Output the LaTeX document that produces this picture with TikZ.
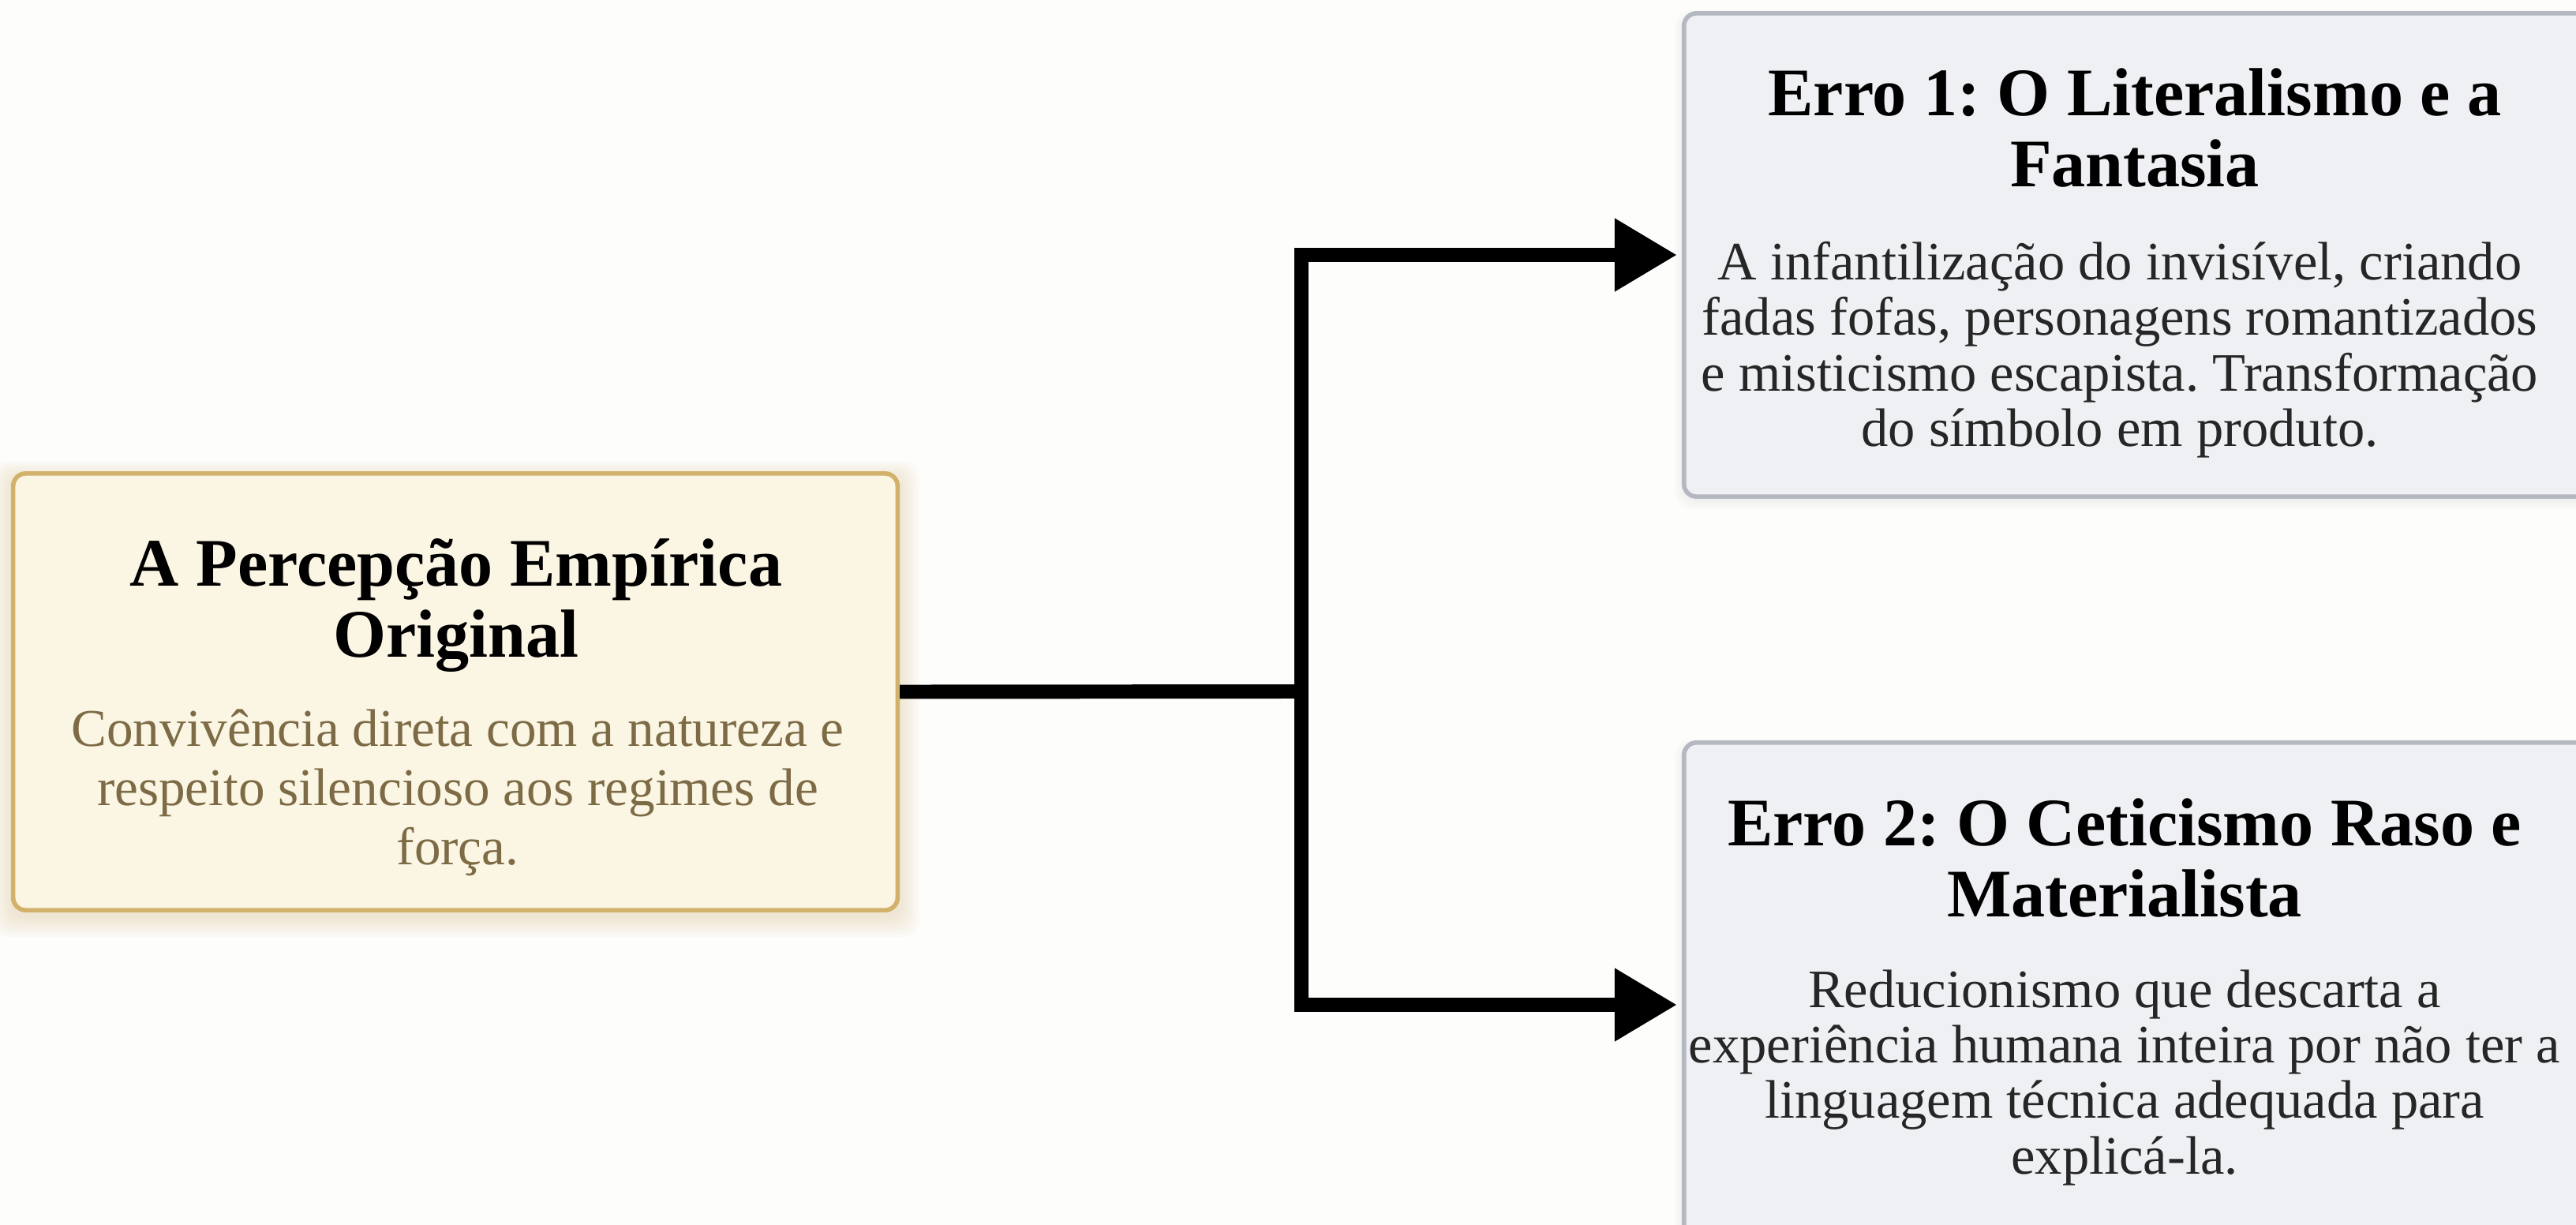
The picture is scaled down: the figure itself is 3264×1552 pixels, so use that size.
\documentclass[tikz,border=0pt]{standalone}
\usepackage{fontspec}
\setmainfont{Liberation Serif}
\usetikzlibrary{arrows.meta}
\definecolor{bg}{HTML}{FDFDFC}
\definecolor{goldfill}{HTML}{FBF5E4}
\definecolor{goldline}{HTML}{D2B26A}
\definecolor{goldtext}{HTML}{7D6B45}
\definecolor{grayfill}{HTML}{EEF0F3}
\definecolor{grayline}{HTML}{B4B9C1}
\frenchspacing
\begin{document}
\begin{tikzpicture}[x=0.01cm,y=-0.01cm,
  box/.style={rounded corners=0.16cm, line width=1.6pt, inner sep=0pt, rectangle},
  mainbox/.style={box, draw=goldline, fill=goldfill},
  errbox/.style={box, draw=grayline, fill=grayfill},
  titletext/.style={font=\fontsize{24.5pt}{25.6pt}\selectfont\bfseries, align=center, text=black, inner sep=0pt},
  bodyleft/.style={font=\fontsize{19.1pt}{21.3pt}\selectfont, align=center, text=goldtext, inner sep=0pt},
  bodyright/.style={font=\fontsize{19.5pt}{20.0pt}\selectfont, align=center, text=black!85, inner sep=0pt},
  conn/.style={line width=5.1pt, draw=black},
  tip/.style={-{Triangle[length=0.79cm,width=0.88cm]}}
]
\useasboundingbox (0,0) rectangle (3264,1552);
\clip (0,0) rectangle (3264,1552);
\fill[bg] (0,0) rectangle (3264,1552);

% glow / shadows
\foreach \i in {1,...,7}{
  \fill[goldline, opacity=0.045, rounded corners=0.2cm]
    (17-\i*4, 600-\i*3+6) rectangle (1137+\i*4, 1153+\i*4+6);
}
\foreach \i in {1,...,4}{
  \fill[grayline, opacity=0.04, rounded corners=0.2cm]
    (2134-\i*3, 17-\i*2+4) rectangle (3290+\i*3, 629+\i*3+4);
  \fill[grayline, opacity=0.04, rounded corners=0.2cm]
    (2134-\i*3, 941-\i*2+4) rectangle (3290+\i*3, 1605+\i*3+4);
}

% boxes
\node[mainbox, minimum width=11.2cm, minimum height=5.53cm] (L) at (577,876.5) {};
\node[errbox, minimum width=11.56cm, minimum height=6.12cm] (T) at (2712,323) {};
\node[errbox, minimum width=11.56cm, minimum height=6.64cm] (B) at (2712,1273) {};

% texts
\node[titletext] (Lt) at (578,767) {A Percepção Empírica\\Original};
\node[bodyleft] (Lb) at (580,1004) {Convivência direta com a natureza e\\respeito silencioso aos regimes de\\força.};

\node[titletext] (Tt) at (2705,162) {Erro 1: O Literalismo e a\\Fantasia};
\node[bodyright] (Tb) at (2686,443) {A infantilização do invisível, criando\\fadas fofas, personagens romantizados\\e misticismo escapista. Transformação\\do símbolo em produto.};

\node[titletext] (Bt) at (2692,1087) {Erro 2: O Ceticismo Raso e\\Materialista};
\node[bodyright] (Bb) at (2692,1365) {Reducionismo que descarta a\\experiência humana inteira por não ter a\\linguagem técnica adequada para\\explicá-la.};

% connectors
\coordinate (hub) at (1649,876);
\draw[conn] (L.east) -- (hub);
\draw[conn, tip, line join=miter] (hub) |- ([xshift=-0.06cm]T.west);
\draw[conn, tip, line join=miter] (hub) |- ([xshift=-0.06cm]B.west);
\end{tikzpicture}
\end{document}
